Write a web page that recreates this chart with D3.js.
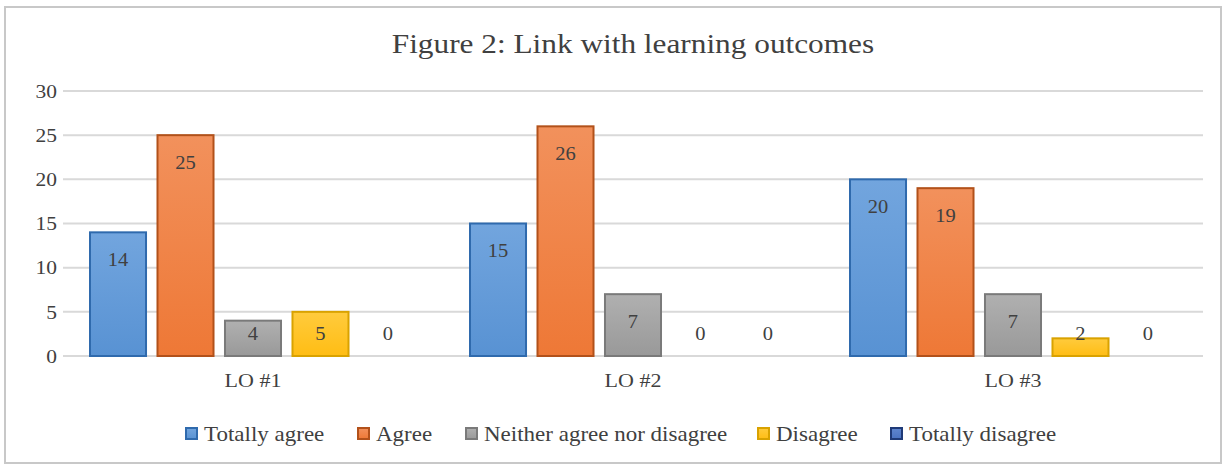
<!DOCTYPE html>
<html>
<head>
<meta charset="utf-8">
<script src="https://cdn.jsdelivr.net/npm/d3@7"></script>
<style>
  body { margin: 0; background: #fff; }
  text { font-family: "Liberation Serif", "Times New Roman", serif; }
</style>
</head>
<body>
<script>
// data
const categories = ["LO #1", "LO #2", "LO #3"];
const seriesNames = ["Totally agree", "Agree", "Neither agree nor disagree", "Disagree", "Totally disagree"];
const totallyAgree = [14, 15, 20];
const agree = [25, 26, 19];
const neither = [4, 7, 7];
const disagree = [5, 0, 2];
const totallyDisagree = [0, 0, 0];
const yTicks = [0, 5, 10, 15, 20, 25, 30];

const seriesValues = [totallyAgree, agree, neither, disagree, totallyDisagree];
const fills = [["#72a5de", "#5892d3"], ["#f2915c", "#ee7836"], ["#b0b0b0", "#999999"], ["#ffcb3d", "#ffbd14"], ["#5f86cf", "#4a72c1"]];
const strokes = ["#2f6aad", "#b2511a", "#7a7a7a", "#d9a200", "#1f3a78"];

const W = 1225, H = 467;
const margin = {top: 91, right: 22, bottom: 111, left: 63};
const width = W - margin.left - margin.right;
const height = H - margin.top - margin.bottom;
const SX = 1.14; // the source text is a bit wider than Liberation Serif

// stretch text horizontally while keeping its anchor point
function stretch(sel, sx) {
  sel.each(function() {
    const t = d3.select(this);
    const x = +(t.attr("x") || 0);
    t.attr("x", x / sx).attr("transform", "scale(" + sx + ",1)");
  });
}

const svg = d3.select("body").append("svg")
   .attr("width", W)
   .attr("height", H);

// gradients
const defs = svg.append("defs");
fills.forEach((f, i) => {
  const g = defs.append("linearGradient")
     .attr("id", "grad" + i)
     .attr("x1", 0).attr("y1", 0).attr("x2", 0).attr("y2", 1);
  g.append("stop").attr("offset", "0%").attr("stop-color", f[0]);
  g.append("stop").attr("offset", "100%").attr("stop-color", f[1]);
});

// outer frame
svg.append("rect")
   .attr("x", 5).attr("y", 7)
   .attr("width", 1216).attr("height", 456)
   .attr("fill", "#fff")
   .attr("stroke", "#c8c8c8")
   .attr("stroke-width", 2);

svg.append("text")
   .attr("x", 633).attr("y", 53)
   .attr("text-anchor", "middle")
   .attr("font-size", 27)
   .attr("fill", "#404040")
   .text("Figure 2: Link with learning outcomes")
   .call(stretch, 1.16);

const g = svg.append("g")
   .attr("transform", "translate(" + margin.left + "," + margin.top + ")");

const x0 = d3.scaleBand()
   .domain(categories)
   .range([0, width])
   .padding(0);

const x1 = d3.scaleBand()
   .domain(seriesNames)
   .range([27, x0.bandwidth() - 27])
   .paddingInner(0.17)
   .paddingOuter(0);

const y = d3.scaleLinear()
   .domain([0, 30])
   .range([height, 0]);

// grid
g.append("g")
   .selectAll("line")
   .data(yTicks)
   .enter()
   .append("line")
   .attr("x1", 0).attr("x2", width)
   .attr("y1", d => y(d)).attr("y2", d => y(d))
   .attr("stroke", "#d9d9d9")
   .attr("stroke-width", 2);

// y axis labels
const yAxis = g.append("g")
   .call(d3.axisLeft(y).tickValues(yTicks).tickSize(0).tickPadding(6));
yAxis.select(".domain").remove();
yAxis.selectAll("text")
   .attr("font-family", "Liberation Serif, serif")
   .attr("font-size", 19.5)
   .attr("fill", "#404040")
   .call(stretch, 1.1);

// x axis labels
const xAxis = g.append("g")
   .attr("transform", "translate(0," + height + ")")
   .call(d3.axisBottom(x0).tickSize(0).tickPadding(17));
xAxis.select(".domain").remove();
xAxis.selectAll("text")
   .attr("font-family", "Liberation Serif, serif")
   .attr("font-size", 19.5)
   .attr("fill", "#404040")
   .call(stretch, 1.13);

// bars
const rows = [];
categories.forEach((c, ci) => {
  seriesNames.forEach((s, si) => {
    rows.push({cat: c, series: s, si: si, value: seriesValues[si][ci]});
  });
});

g.selectAll("rect.bar")
   .data(rows.filter(d => d.value > 0))
   .enter()
   .append("rect")
   .attr("class", "bar")
   .attr("x", d => x0(d.cat) + x1(d.series))
   .attr("y", d => y(d.value))
   .attr("width", x1.bandwidth())
   .attr("height", d => height - y(d.value))
   .attr("fill", d => "url(#grad" + d.si + ")")
   .attr("stroke", d => strokes[d.si])
   .attr("stroke-width", 2);

g.selectAll("text.lbl")
   .data(rows)
   .enter()
   .append("text")
   .attr("class", "lbl")
   .attr("x", d => x0(d.cat) + x1(d.series) + x1.bandwidth() / 2)
   .attr("y", d => Math.min(y(d.value) + 27, height - 23) + 7)
   .attr("text-anchor", "middle")
   .attr("font-size", 19)
   .attr("fill", "#404040")
   .text(d => d.value)
   .call(stretch, 1.08);

// legend
const legendX = [186, 358, 466, 758, 891];
const legend = svg.append("g");
seriesNames.forEach((s, i) => {
  legend.append("rect")
     .attr("x", legendX[i]).attr("y", 428)
     .attr("width", 11).attr("height", 11)
     .attr("fill", "url(#grad" + i + ")")
     .attr("stroke", strokes[i])
     .attr("stroke-width", 2);
  legend.append("text")
     .attr("x", legendX[i] + 18).attr("y", 441)
     .attr("font-size", 20)
     .attr("fill", "#404040")
     .text(s)
     .call(stretch, 1.15);
});
</script>
</body>
</html>
